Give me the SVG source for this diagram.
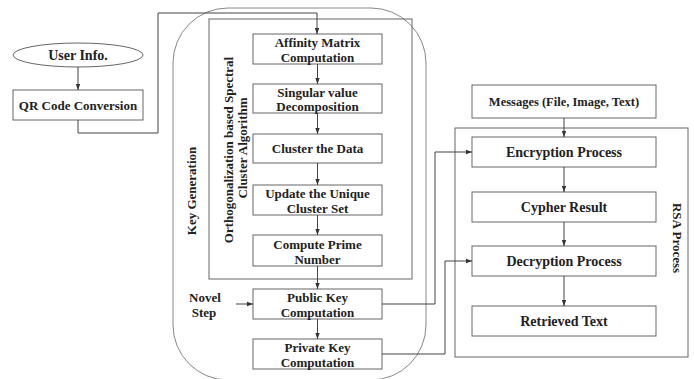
<svg xmlns="http://www.w3.org/2000/svg" width="694" height="379" viewBox="0 0 694 379">
<defs>
<style>
.bx{fill:#fff;stroke:#666;stroke-width:1}
.frame{fill:none;stroke:#666;stroke-width:1}
.outer{fill:none;stroke:#888;stroke-width:1}
.t{font-family:"Liberation Serif","Times New Roman",serif;font-weight:bold;fill:#222;text-anchor:middle}
.s13{font-size:13px}
.s14{font-size:14px}
.s12{font-size:12.5px}
.c{fill:none;stroke:#444;stroke-width:1}
</style>
<marker id="ah" markerUnits="userSpaceOnUse" markerWidth="6" markerHeight="6" viewBox="0 0 6 6" refX="6" refY="3" orient="auto">
<path d="M0,0.8 L6,3 L0,5.2 Z" fill="#333"/>
</marker>
</defs>
<rect width="694" height="379" fill="#fff"/>

<g id="key-generation">
<rect class="outer" x="173" y="8" width="253" height="372" rx="55" ry="55"/>
<text class="t s13" transform="translate(196,191) rotate(-90)">Key Generation</text>
</g>
<g id="spectral-cluster">
<rect class="frame" x="209" y="19" width="203" height="260"/>
<text class="t s13" transform="translate(233,150) rotate(-90)">Orthogonalization based Spectral</text>
<text class="t s13" transform="translate(247,148) rotate(-90)">Cluster Algorithm</text>
</g>

<g id="user-info">
<ellipse cx="78" cy="55" rx="65" ry="12" fill="#fff" stroke="#666"/>
<text class="t s14" x="78" y="60">User Info.</text>
</g>
<g id="qr-code">
<rect class="bx" x="13" y="90" width="130" height="30"/>
<text class="t s13" x="78" y="109.5">QR Code Conversion</text>
</g>

<g id="affinity">
<rect class="bx" x="253" y="34" width="129" height="30"/>
<text class="t s13" x="317.5" y="47">Affinity Matrix</text>
<text class="t s13" x="317.5" y="62">Computation</text>
</g>
<g id="svd">
<rect class="bx" x="253" y="84" width="129" height="29"/>
<text class="t s13" x="317.5" y="97">Singular value</text>
<text class="t s13" x="317.5" y="111">Decomposition</text>
</g>
<g id="cluster">
<rect class="bx" x="253" y="134" width="129" height="29"/>
<text class="t s13" x="317.5" y="153">Cluster the Data</text>
</g>
<g id="update">
<rect class="bx" x="253" y="185" width="129" height="30"/>
<text class="t s13" x="317.5" y="198">Update the Unique</text>
<text class="t s13" x="317.5" y="213">Cluster Set</text>
</g>
<g id="prime">
<rect class="bx" x="253" y="235" width="129" height="31"/>
<text class="t s13" x="317.5" y="248.5">Compute Prime</text>
<text class="t s13" x="317.5" y="263.5">Number</text>
</g>
<g id="public-key">
<rect class="bx" x="253" y="289" width="129" height="30"/>
<text class="t s13" x="317.5" y="301.5">Public Key</text>
<text class="t s13" x="317.5" y="316.5">Computation</text>
</g>
<g id="private-key">
<rect class="bx" x="253" y="339" width="129" height="30"/>
<text class="t s13" x="317.5" y="351.5">Private Key</text>
<text class="t s13" x="317.5" y="366.5">Computation</text>
</g>
<g id="novel-step">
<text class="t s13" x="205" y="302">Novel</text>
<text class="t s13" x="204" y="317">Step</text>
</g>

<g id="messages">
<rect class="bx" x="472" y="85" width="184" height="33"/>
<text class="t s12" x="564" y="106">Messages (File, Image, Text)</text>
</g>
<g id="rsa-process">
<rect class="frame" x="455" y="128" width="233" height="229"/>
<text class="t s13" transform="translate(673,238) rotate(90)">RSA Process</text>
</g>
<g id="encryption">
<rect class="bx" x="472" y="137" width="184" height="30"/>
<text class="t s14" x="564" y="157">Encryption Process</text>
</g>
<g id="cypher">
<rect class="bx" x="472" y="192" width="184" height="30"/>
<text class="t s14" x="564" y="212">Cypher Result</text>
</g>
<g id="decryption">
<rect class="bx" x="472" y="246" width="184" height="30"/>
<text class="t s14" x="564" y="266">Decryption Process</text>
</g>
<g id="retrieved">
<rect class="bx" x="472" y="306" width="184" height="30"/>
<text class="t s14" x="564" y="326">Retrieved Text</text>
</g>

<g id="connectors">
<path class="c" d="M78,67 V90" marker-end="url(#ah)"/>
<path class="c" d="M78,120 V133 H158 V13 H317 V34" marker-end="url(#ah)"/>
<path class="c" d="M317.5,64 V84" marker-end="url(#ah)"/>
<path class="c" d="M317.5,113 V134" marker-end="url(#ah)"/>
<path class="c" d="M317.5,163 V185" marker-end="url(#ah)"/>
<path class="c" d="M317.5,215 V235" marker-end="url(#ah)"/>
<path class="c" d="M317.5,266 V289" marker-end="url(#ah)"/>
<path class="c" d="M317.5,319 V339" marker-end="url(#ah)"/>
<path class="c" d="M236,304 H253" marker-end="url(#ah)"/>
<path class="c" d="M382,304 H435 V152 H472" marker-end="url(#ah)"/>
<path class="c" d="M382,354 H445 V261 H472" marker-end="url(#ah)"/>
<path class="c" d="M564,118 V137" marker-end="url(#ah)"/>
<path class="c" d="M564,167 V192" marker-end="url(#ah)"/>
<path class="c" d="M564,222 V246" marker-end="url(#ah)"/>
<path class="c" d="M564,276 V306" marker-end="url(#ah)"/>
</g>
</svg>
